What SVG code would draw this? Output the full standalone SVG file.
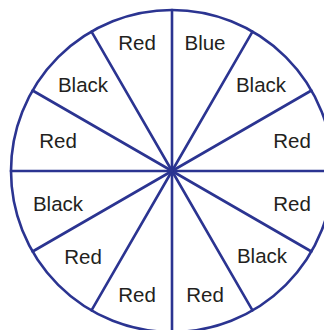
<svg xmlns="http://www.w3.org/2000/svg" width="324" height="330" viewBox="0 0 324 330">
<style>
.ln{stroke:#2b3491;stroke-width:2.6;fill:none;stroke-linecap:round}
.t{font-family:"Liberation Sans",Arial,sans-serif;font-size:20.5px;fill:#231f20;text-anchor:middle}
</style>
<rect width="324" height="330" fill="#fff"/>
<g id="connectors">
<circle class="ln" cx="172" cy="171" r="161"/>
<g transform="translate(172 171)">
<line class="ln" x1="0" y1="0" x2="0" y2="-161"/>
<line class="ln" x1="0" y1="0" x2="80.5" y2="-139.4"/>
<line class="ln" x1="0" y1="0" x2="139.4" y2="-80.5"/>
<line class="ln" x1="0" y1="0" x2="161" y2="0"/>
<line class="ln" x1="0" y1="0" x2="139.4" y2="80.5"/>
<line class="ln" x1="0" y1="0" x2="80.5" y2="139.4"/>
<line class="ln" x1="0" y1="0" x2="0" y2="161"/>
<line class="ln" x1="0" y1="0" x2="-80.5" y2="139.4"/>
<line class="ln" x1="0" y1="0" x2="-139.4" y2="80.5"/>
<line class="ln" x1="0" y1="0" x2="-161" y2="0"/>
<line class="ln" x1="0" y1="0" x2="-139.4" y2="-80.5"/>
<line class="ln" x1="0" y1="0" x2="-80.5" y2="-139.4"/>
</g>
</g>
<g id="s1"><text class="t" x="205" y="50">Blue</text></g>
<g id="s2"><text class="t" x="261" y="92">Black</text></g>
<g id="s3"><text class="t" x="292" y="148">Red</text></g>
<g id="s4"><text class="t" x="292" y="211">Red</text></g>
<g id="s5"><text class="t" x="262" y="263">Black</text></g>
<g id="s6"><text class="t" x="205" y="302">Red</text></g>
<g id="s7"><text class="t" x="137" y="302">Red</text></g>
<g id="s8"><text class="t" x="83" y="264">Red</text></g>
<g id="s9"><text class="t" x="58" y="211">Black</text></g>
<g id="s10"><text class="t" x="58" y="148">Red</text></g>
<g id="s11"><text class="t" x="83" y="92">Black</text></g>
<g id="s12"><text class="t" x="137" y="50">Red</text></g>
</svg>
